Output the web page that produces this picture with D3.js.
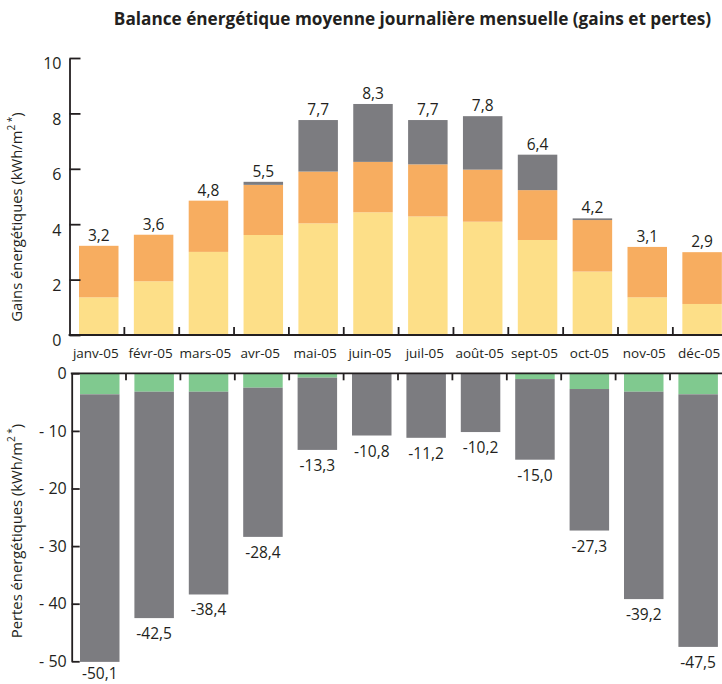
<!DOCTYPE html>
<html><head><meta charset="utf-8">
<script src="https://cdn.jsdelivr.net/npm/d3@7"></script>
<style>
body{margin:0;background:#fff}
svg{display:block}
text{font-family:"Open Sans",sans-serif;fill:#231f20}
</style>
</head><body>
<svg id="c" width="722" height="684"></svg>
<script>
// ---- data ----
const months = ["janv-05","févr-05","mars-05","avr-05","mai-05","juin-05","juil-05","août-05","sept-05","oct-05","nov-05","déc-05"];
// gains (kWh/m²), stacked bottom -> top
const gainsYellow = [1.36,1.94,3.00,3.61,4.03,4.43,4.28,4.09,3.43,2.29,1.36,1.12];
const gainsOrange = [1.86,1.68,1.85,1.81,1.87,1.82,1.88,1.88,1.80,1.86,1.82,1.87];
const gainsGray   = [0,0,0,0.11,1.86,2.09,1.60,1.93,1.28,0.06,0,0];
const gainsTotal  = [3.2,3.6,4.8,5.5,7.7,8.3,7.7,7.8,6.4,4.2,3.1,2.9];
// pertes (kWh/m²), stacked from 0 downward
const lossGreen = [3.65,3.20,3.20,2.50,0.76,0,0,0,1.00,2.73,3.20,3.65];
const lossGray  = [46.45,39.30,35.20,25.90,12.54,10.80,11.20,10.20,14.00,24.57,36.00,43.85];
const lossTotal = [-50.1,-42.5,-38.4,-28.4,-13.3,-10.8,-11.2,-10.2,-15.0,-27.3,-39.2,-47.5];
const gainTicks = [0,2,4,6,8,10];
const lossTicks = [0,-10,-20,-30,-40,-50];
const lossTickLabels = ["0","- 10","- 20","- 30","- 40","- 50"];

const title = "Balance énergétique moyenne journalière mensuelle (gains et pertes)";
const colors = {yellow:"#fddf88", orange:"#f7ad60", gray:"#7c7c80", green:"#80c98f", ink:"#231f20"};
const fmt = v => d3.format(".1f")(v).replace(".", ",").replace("\u2212", "-");

const svg = d3.select("#c");

// ---- scales ----
const xTop = d3.scaleBand().domain(months).range([69.5, 69.5 + 12*54.85]);
const xBot = d3.scaleBand().domain(months).range([71.6, 71.6 + 12*54.4]);
const barOffTop = 9.5, barOffBot = 8.4, barW = 39.5;
const yTop = d3.scaleLinear().domain([0,10]).range([335,58]);
const yBot = d3.scaleLinear().domain([0,-50]).range([373.3,661.3]);

// ---- title ----
svg.append("text").attr("x",412.5).attr("y",25).attr("text-anchor","middle")
  .style("font-weight","700").style("font-size","17.2px").text(title);

// ---- gains bars ----
const gTop = svg.append("g");
const stackTop = months.map((m,i)=>{
  const a = gainsYellow[i], b = a + gainsOrange[i], c = b + gainsGray[i];
  return {m, segs:[[0,a,colors.yellow],[a,b,colors.orange],[b,c,colors.gray]], top:c, label:gainsTotal[i]};
});
stackTop.forEach(d=>{
  d.segs.forEach(s=>{
    if (s[1]-s[0] <= 0) return;
    gTop.append("rect")
      .attr("x", xTop(d.m)+barOffTop).attr("width", barW)
      .attr("y", yTop(s[1])).attr("height", yTop(s[0])-yTop(s[1]))
      .attr("fill", s[2]);
  });
  gTop.append("text").attr("x", xTop(d.m)+barOffTop+barW/2).attr("y", yTop(d.top)-5)
    .attr("text-anchor","middle").style("font-size","15.5px").text(fmt(d.label));
});

// gains y axis
const axTop = svg.append("g").attr("transform","translate(69.5,0)")
  .call(d3.axisLeft(yTop).tickValues(gainTicks).tickSize(-11).tickSizeOuter(0).tickPadding(8).tickFormat(d=>d));
axTop.selectAll("line,path").attr("stroke",colors.ink).attr("stroke-width",1.8);
axTop.selectAll("text").attr("dy","0.68em").style("font-size","16px").attr("fill",colors.ink);
axTop.attr("font-family",null).attr("font-size",null);

// gains x axis line + ticks at band boundaries
svg.append("line").attr("x1",68.6).attr("x2",722).attr("y1",yTop(0)).attr("y2",yTop(0))
  .attr("stroke",colors.ink).attr("stroke-width",1.8);
months.slice(1).forEach(m=>{
  svg.append("line").attr("x1",xTop(m)).attr("x2",xTop(m)).attr("y1",yTop(0)).attr("y2",yTop(0)-8)
    .attr("stroke",colors.ink).attr("stroke-width",1.8);
});

// category labels
months.forEach(m=>{
  svg.append("text").attr("x", xTop(m)+barOffTop+barW/2-3).attr("y",358)
    .attr("text-anchor","middle").style("font-size","13.5px").text(m);
});

// ---- losses bars ----
const gBot = svg.append("g");
months.forEach((m,i)=>{
  const a = -lossGreen[i], b = a - lossGray[i];
  [[0,a,colors.green],[a,b,colors.gray]].forEach(s=>{
    if (s[0]-s[1] <= 0) return;
    gBot.append("rect")
      .attr("x", xBot(m)+barOffBot).attr("width", barW)
      .attr("y", yBot(s[0])).attr("height", yBot(s[1])-yBot(s[0]))
      .attr("fill", s[2]);
  });
  gBot.append("text").attr("x", xBot(m)+barOffBot+barW/2).attr("y", Math.min(yBot(b)+21, 679))
    .attr("text-anchor","middle").style("font-size","15.5px").text(fmt(lossTotal[i]));
});

// losses y axis
const axBot = svg.append("g").attr("transform","translate(71.7,0)")
  .call(d3.axisLeft(yBot).tickValues(lossTicks).tickSize(-8).tickSizeOuter(0).tickPadding(5)
    .tickFormat((d,i)=>lossTickLabels[i]));
axBot.selectAll("line,path").attr("stroke",colors.ink).attr("stroke-width",1.8);
axBot.selectAll("text").style("font-size","16px").attr("fill",colors.ink);
axBot.attr("font-family",null).attr("font-size",null);

// losses x axis line + ticks
svg.append("line").attr("x1",70.8).attr("x2",722).attr("y1",yBot(0)).attr("y2",yBot(0))
  .attr("stroke",colors.ink).attr("stroke-width",1.8);
months.slice(1).forEach(m=>{
  svg.append("line").attr("x1",xBot(m)).attr("x2",xBot(m)).attr("y1",yBot(0)).attr("y2",yBot(0)+7)
    .attr("stroke",colors.ink).attr("stroke-width",1.8);
});

// ---- axis titles ----
function yTitle(cx, cy, main){
  const t = svg.append("text").attr("transform",`translate(${cx},${cy}) rotate(-90)`)
    .attr("text-anchor","middle").style("font-size","14.8px");
  t.append("tspan").text(main + " (kWh/m");
  t.append("tspan").attr("baseline-shift","super").style("font-size","10px").text("2 *");
  t.append("tspan").text(")");
}
yTitle(22, 217, "Gains énergétiques");
yTitle(22, 531, "Pertes énergétiques");
</script>
</body></html>
